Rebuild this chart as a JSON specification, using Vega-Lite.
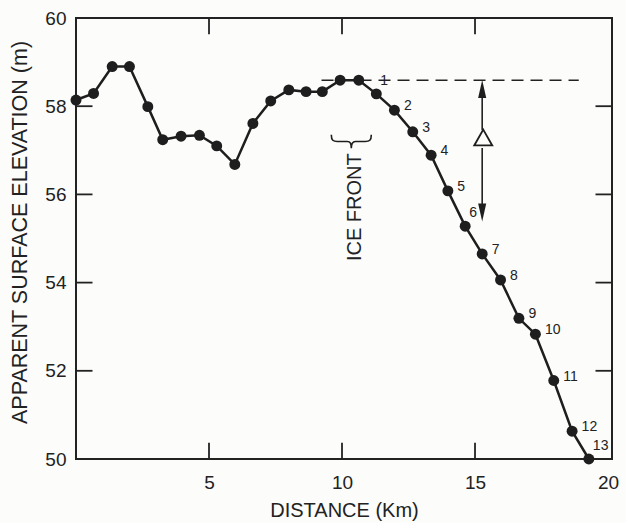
{
  "$schema": "https://vega.github.io/schema/vega-lite/v6.json",
  "width": 536,
  "height": 441,
  "autosize": {"type": "none"},
  "padding": {"left": 76, "top": 18, "right": 14, "bottom": 64},
  "background": "#fcfcfa",
  "config": {
    "view": {"stroke": "#222222", "strokeWidth": 2},
    "font": "Liberation Sans",
    "axis": {
      "grid": false,
      "domain": false,
      "ticks": false,
      "labelFontSize": 19,
      "labelColor": "#222222",
      "labelFlush": false,
      "labelOverlap": false,
      "titleFontSize": 20,
      "titleFontWeight": "normal",
      "titleColor": "#222222"
    }
  },
  "datasets": {
    "profile": [
      {"distance": 0.0, "elevation": 58.14, "label": ""},
      {"distance": 0.66, "elevation": 58.29, "label": ""},
      {"distance": 1.36, "elevation": 58.9, "label": ""},
      {"distance": 2.01, "elevation": 58.9, "label": ""},
      {"distance": 2.7, "elevation": 57.99, "label": ""},
      {"distance": 3.26, "elevation": 57.24, "label": ""},
      {"distance": 3.95, "elevation": 57.32, "label": ""},
      {"distance": 4.64, "elevation": 57.34, "label": ""},
      {"distance": 5.29, "elevation": 57.1, "label": ""},
      {"distance": 5.97, "elevation": 56.68, "label": ""},
      {"distance": 6.65, "elevation": 57.61, "label": ""},
      {"distance": 7.32, "elevation": 58.12, "label": ""},
      {"distance": 8.0, "elevation": 58.37, "label": ""},
      {"distance": 8.65, "elevation": 58.33, "label": ""},
      {"distance": 9.26, "elevation": 58.33, "label": ""},
      {"distance": 9.93, "elevation": 58.59, "label": ""},
      {"distance": 10.63, "elevation": 58.59, "label": ""},
      {"distance": 11.29, "elevation": 58.28, "label": "1"},
      {"distance": 11.97, "elevation": 57.91, "label": "2"},
      {"distance": 12.66, "elevation": 57.42, "label": "3"},
      {"distance": 13.35, "elevation": 56.89, "label": "4"},
      {"distance": 13.98, "elevation": 56.08, "label": "5"},
      {"distance": 14.63, "elevation": 55.28, "label": "6"},
      {"distance": 15.27, "elevation": 54.65, "label": "7"},
      {"distance": 15.96, "elevation": 54.06, "label": "8"},
      {"distance": 16.65, "elevation": 53.19, "label": "9"},
      {"distance": 17.27, "elevation": 52.83, "label": "10"},
      {"distance": 17.96, "elevation": 51.78, "label": "11"},
      {"distance": 18.65, "elevation": 50.63, "label": "12"},
      {"distance": 19.28, "elevation": 50.0, "label": "13"}
    ],
    "xticks": [
      {"x": 5, "y0": 50, "y1": 50.37},
      {"x": 10, "y0": 50, "y1": 50.37},
      {"x": 15, "y0": 50, "y1": 50.37},
      {"x": 5, "y0": 60, "y1": 59.63},
      {"x": 10, "y0": 60, "y1": 59.63},
      {"x": 15, "y0": 60, "y1": 59.63}
    ],
    "yticks": [
      {"y": 52, "x0": 0, "x1": 0.62},
      {"y": 54, "x0": 0, "x1": 0.62},
      {"y": 56, "x0": 0, "x1": 0.62},
      {"y": 58, "x0": 0, "x1": 0.62},
      {"y": 52, "x0": 20.15, "x1": 19.53},
      {"y": 54, "x0": 20.15, "x1": 19.53},
      {"y": 56, "x0": 20.15, "x1": 19.53},
      {"y": 58, "x0": 20.15, "x1": 19.53}
    ],
    "dashed": [{"x": 9.23, "x2": 18.9, "y": 58.59}],
    "shafts": [
      {"x": 15.27, "y": 58.4, "y2": 57.46},
      {"x": 15.27, "y": 57.05, "y2": 55.62}
    ],
    "heads": [
      {"x": 15.27, "y": 58.39, "dir": "up"},
      {"x": 15.27, "y": 55.59, "dir": "down"}
    ],
    "delta": [{"x": 15.31, "y": 57.29}],
    "brace": [{"x": 10.35, "y": 57.2}],
    "notes": [{"x": 10.47, "y": 55.71, "text": "ICE FRONT"}]
  },
  "layer": [
    {
      "data": {"name": "profile"},
      "mark": {"type": "line", "color": "#1e1e1e", "strokeWidth": 2.5},
      "encoding": {
        "x": {
          "field": "distance", "type": "quantitative",
          "scale": {"domain": [0, 20.15], "nice": false, "zero": false},
          "axis": {
            "orient": "bottom",
            "values": [5, 10, 15, 20],
            "labelPadding": 14,
            "title": "DISTANCE (Km)",
            "titlePadding": 8
          }
        },
        "y": {
          "field": "elevation", "type": "quantitative",
          "scale": {"domain": [50, 60], "nice": false, "zero": false},
          "axis": {
            "orient": "left",
            "values": [50, 52, 54, 56, 58, 60],
            "labelPadding": 10,
            "title": "APPARENT SURFACE ELEVATION (m)",
            "titleFontSize": 21.5,
            "titlePadding": 13,
            "titleY": 214
          }
        }
      }
    },
    {
      "data": {"name": "xticks"},
      "mark": {"type": "rule", "color": "#222222", "strokeWidth": 1.8},
      "encoding": {
        "x": {"field": "x", "type": "quantitative"},
        "y": {"field": "y0", "type": "quantitative"},
        "y2": {"field": "y1"}
      }
    },
    {
      "data": {"name": "yticks"},
      "mark": {"type": "rule", "color": "#222222", "strokeWidth": 1.8},
      "encoding": {
        "y": {"field": "y", "type": "quantitative"},
        "x": {"field": "x0", "type": "quantitative"},
        "x2": {"field": "x1"}
      }
    },
    {
      "data": {"name": "dashed"},
      "mark": {"type": "rule", "color": "#222222", "strokeWidth": 1.6, "strokeDash": [12, 7]},
      "encoding": {
        "x": {"field": "x", "type": "quantitative"},
        "x2": {"field": "x2"},
        "y": {"field": "y", "type": "quantitative"}
      }
    },
    {
      "data": {"name": "profile"},
      "mark": {"type": "point", "filled": true, "color": "#1e1e1e", "size": 120, "opacity": 1},
      "encoding": {
        "x": {"field": "distance", "type": "quantitative"},
        "y": {"field": "elevation", "type": "quantitative"}
      }
    },
    {
      "data": {"name": "profile"},
      "transform": [{"filter": "datum.label != '' && datum.label != '1' && datum.label != '6' && datum.label != '13'"}],
      "mark": {"type": "text", "align": "left", "baseline": "middle", "dx": 9.5, "dy": -4, "fontSize": 14, "color": "#222222"},
      "encoding": {
        "x": {"field": "distance", "type": "quantitative"},
        "y": {"field": "elevation", "type": "quantitative"},
        "text": {"field": "label"}
      }
    },
    {
      "data": {"name": "profile"},
      "transform": [{"filter": "datum.label == '1' || datum.label == '6' || datum.label == '13'"}],
      "mark": {"type": "text", "align": "left", "baseline": "middle", "dx": 4, "dy": -13, "fontSize": 14, "color": "#222222"},
      "encoding": {
        "x": {"field": "distance", "type": "quantitative"},
        "y": {"field": "elevation", "type": "quantitative"},
        "text": {"field": "label"}
      }
    },
    {
      "data": {"name": "shafts"},
      "mark": {"type": "rule", "color": "#222222", "strokeWidth": 1.6},
      "encoding": {
        "x": {"field": "x", "type": "quantitative"},
        "y": {"field": "y", "type": "quantitative"},
        "y2": {"field": "y2"}
      }
    },
    {
      "data": {"name": "heads"},
      "transform": [{"filter": "datum.dir == 'up'"}],
      "mark": {"type": "point", "filled": true, "color": "#1e1e1e", "opacity": 1, "size": 324, "shape": "M0,-1L0.45,1L-0.45,1Z"},
      "encoding": {
        "x": {"field": "x", "type": "quantitative"},
        "y": {"field": "y", "type": "quantitative"}
      }
    },
    {
      "data": {"name": "heads"},
      "transform": [{"filter": "datum.dir == 'down'"}],
      "mark": {"type": "point", "filled": true, "color": "#1e1e1e", "opacity": 1, "size": 324, "shape": "M0,1L0.45,-1L-0.45,-1Z"},
      "encoding": {
        "x": {"field": "x", "type": "quantitative"},
        "y": {"field": "y", "type": "quantitative"}
      }
    },
    {
      "data": {"name": "delta"},
      "mark": {"type": "point", "filled": false, "color": "#1e1e1e", "opacity": 1, "strokeWidth": 1.8, "size": 324, "shape": "M0,-0.88L1,0.88L-1,0.88Z"},
      "encoding": {
        "x": {"field": "x", "type": "quantitative"},
        "y": {"field": "y", "type": "quantitative"}
      }
    },
    {
      "data": {"name": "brace"},
      "mark": {"type": "point", "filled": false, "color": "#1e1e1e", "opacity": 1, "strokeWidth": 1.6, "size": 1600,
        "shape": "M-1,-0.34C-1,-0.05 -0.9,0 -0.7,0L-0.2,0C-0.05,0 0,0.1 0,0.34C0,0.1 0.05,0 0.2,0L0.7,0C0.9,0 1,-0.05 1,-0.34"},
      "encoding": {
        "x": {"field": "x", "type": "quantitative"},
        "y": {"field": "y", "type": "quantitative"}
      }
    },
    {
      "data": {"name": "notes"},
      "mark": {"type": "text", "angle": 270, "align": "center", "baseline": "middle", "fontSize": 20, "color": "#222222"},
      "encoding": {
        "x": {"field": "x", "type": "quantitative"},
        "y": {"field": "y", "type": "quantitative"},
        "text": {"field": "text"}
      }
    }
  ]
}
